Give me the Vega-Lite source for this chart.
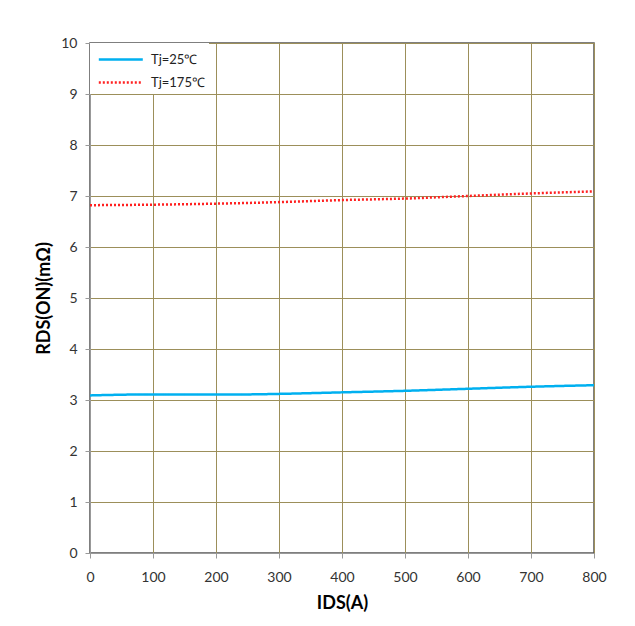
{
  "$schema": "https://vega.github.io/schema/vega-lite/v6.json",
  "width": 504,
  "height": 510,
  "autosize": {"type": "none"},
  "padding": {"left": 90, "top": 43, "right": 41, "bottom": 73},
  "background": "white",
  "config": {
    "font": "Lato",
    "view": {"stroke": "#555555", "strokeWidth": 1.5},
    "axis": {
      "labelFont": "Lato",
      "labelFontSize": 14,
      "labelColor": "#333333",
      "labelFlush": false,
      "titleFont": "Lato",
      "titleFontSize": 18,
      "titleFontWeight": "bold",
      "titleColor": "#000000",
      "gridColor": "#9C8F5A",
      "gridWidth": 1,
      "gridOpacity": 1,
      "domainColor": "#999999",
      "tickColor": "#999999",
      "tickSize": 5
    }
  },
  "data": {
    "values": [
      {"ids": 0, "r": 3.09, "series": "Tj=25℃"},
      {"ids": 100, "r": 3.11, "series": "Tj=25℃"},
      {"ids": 200, "r": 3.11, "series": "Tj=25℃"},
      {"ids": 250, "r": 3.11, "series": "Tj=25℃"},
      {"ids": 300, "r": 3.12, "series": "Tj=25℃"},
      {"ids": 400, "r": 3.15, "series": "Tj=25℃"},
      {"ids": 500, "r": 3.18, "series": "Tj=25℃"},
      {"ids": 600, "r": 3.22, "series": "Tj=25℃"},
      {"ids": 700, "r": 3.26, "series": "Tj=25℃"},
      {"ids": 800, "r": 3.29, "series": "Tj=25℃"},
      {"ids": 0, "r": 6.82, "series": "Tj=175℃"},
      {"ids": 100, "r": 6.83, "series": "Tj=175℃"},
      {"ids": 200, "r": 6.85, "series": "Tj=175℃"},
      {"ids": 300, "r": 6.88, "series": "Tj=175℃"},
      {"ids": 400, "r": 6.92, "series": "Tj=175℃"},
      {"ids": 500, "r": 6.95, "series": "Tj=175℃"},
      {"ids": 600, "r": 7.0, "series": "Tj=175℃"},
      {"ids": 700, "r": 7.05, "series": "Tj=175℃"},
      {"ids": 800, "r": 7.09, "series": "Tj=175℃"}
    ]
  },
  "mark": {"type": "line", "strokeWidth": 2.5, "interpolate": "monotone"},
  "encoding": {
    "x": {
      "field": "ids",
      "type": "quantitative",
      "scale": {"domain": [0, 800], "nice": false},
      "axis": {"values": [0, 100, 200, 300, 400, 500, 600, 700, 800], "title": "IDS(A)", "labelPadding": 12, "titlePadding": 10}
    },
    "y": {
      "field": "r",
      "type": "quantitative",
      "scale": {"domain": [0, 10], "nice": false},
      "axis": {"values": [0, 1, 2, 3, 4, 5, 6, 7, 8, 9, 10], "title": "RDS(ON)(mΩ)", "labelPadding": 8, "titlePadding": 7}
    },
    "color": {
      "field": "series",
      "type": "nominal",
      "sort": ["Tj=25℃", "Tj=175℃"],
      "scale": {"domain": ["Tj=25℃", "Tj=175℃"], "range": ["#00B0F0", "#FF2020"]},
      "legend": {
        "title": null,
        "orient": "top-left",
        "offset": 0,
        "fillColor": "white",
        "padding": 4,
        "symbolType": "M-0.7,0H3.3",
        "symbolSize": 484,
        "symbolStrokeWidth": 2.5,
        "labelFont": "Lato",
        "labelFontSize": 13,
        "labelColor": "#222222",
        "rowPadding": 3,
        "labelOffset": 32
      }
    },
    "strokeDash": {
      "field": "series",
      "type": "nominal",
      "sort": ["Tj=25℃", "Tj=175℃"],
      "scale": {"domain": ["Tj=25℃", "Tj=175℃"], "range": [[1, 0], [2, 2]]},
      "legend": null
    }
  }
}
